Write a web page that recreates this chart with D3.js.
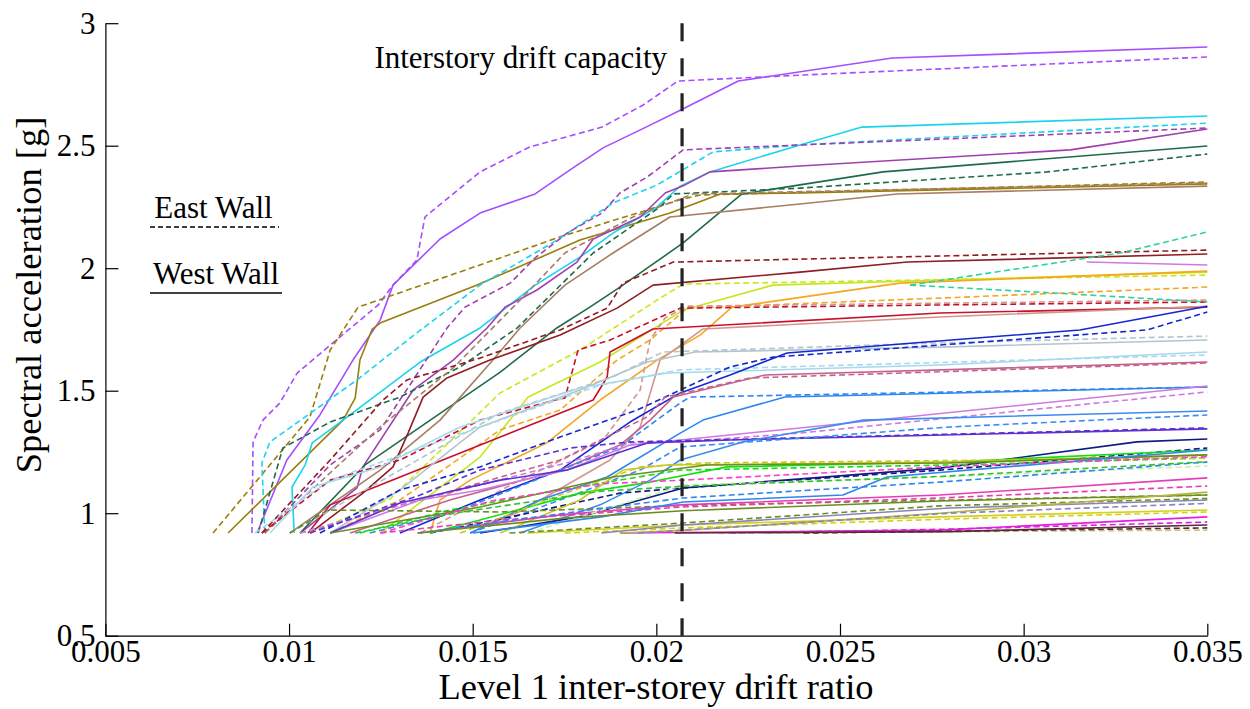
<!DOCTYPE html>
<html>
<head>
<meta charset="utf-8">
<script src="https://cdn.jsdelivr.net/npm/d3@7/dist/d3.min.js"></script>
<style>
  html, body { margin: 0; padding: 0; background: #fff; }
  svg { display: block; }
  text { font-family: "Liberation Serif", "Times New Roman", serif; fill: #000; }
</style>
</head>
<body>
<svg id="chart" width="1250" height="709"></svg>
<script>
// Axis ticks
const xTicks = [0.005, 0.01, 0.015, 0.02, 0.025, 0.03, 0.035];
const xTickLabels = ["0.005", "0.01", "0.015", "0.02", "0.025", "0.03", "0.035"];
const yTicks = [0.5, 1, 1.5, 2, 2.5, 3];
const yTickLabels = ["0.5", "1", "1.5", "2", "2.5", "3"];

// Interstory drift capacity
const driftCapacity = 0.0207;

// Wall of each IDA curve: E = East Wall (dashed), W = West Wall (solid)
const curveWall = [
  "W","E","E","W","W","E","W","E","W","E",
  "W","E","W","E","W","E","W","E","W","E",
  "W","E","W","E","W","E","W","E","W","E",
  "W","E","W","E","W","E","W","E","W","E",
  "W","E","W","E","W","E","W","E","W","E",
  "W","E","E","W","E","W","E","W","E","E",
  "E","W","E","E","W","E","W","E"
];

const curveColor = [
  "#a64dff","#a64dff","#9a7d0a","#9a7d0a","#1ad3ef","#1ad3ef","#a040b0","#a040b0","#1e6b4c","#1e6b4c",
  "#a67e64","#a67e64","#8f1d24","#8f1d24","#c6e81c","#c6e81c","#f5a623","#f5a623","#c8102e","#c8102e",
  "#d4968c","#d4968c","#b4c4cc","#b4c4cc","#a6d8ee","#a6d8ee","#1428d2","#1428d2","#c4628e","#c4628e",
  "#2e86f0","#2e86f0","#d07ae0","#d07ae0","#5b2fd0","#5b2fd0","#3a8cf0","#3a8cf0","#101a80","#101a80",
  "#10e010","#10e010","#c8c81e","#c8c81e","#6b8e23","#6b8e23","#e83cb4","#e83cb4","#e020e0","#e020e0",
  "#d2d21e","#d2d21e","#c8c878","#5a2a3a","#5a2a3a","#8a84b8","#c8f0a8","#2e86f0","#2e86f0","#2ed39a",
  "#2ed39a","#d07ae0","#ff40c8","#30c030","#6b8e23","#6b8e23","#b8b440","#8a84b8"
];

// Each curve: [drift ratio, spectral acceleration (g)] pairs
const curves = [
  [[0.00913,0.919],[0.00994,1.217],[0.01084,1.401],[0.01174,1.625],[0.01248,1.788],[0.01283,1.931],[0.01411,2.119],[0.0152,2.225],[0.0167,2.303],[0.01765,2.401],[0.01855,2.491],[0.01983,2.584],[0.02065,2.645],[0.02223,2.764],[0.02642,2.858],[0.035,2.903]],
  [[0.00899,0.919],[0.00902,1.291],[0.00929,1.380],[0.00975,1.450],[0.01022,1.572],[0.01112,1.686],[0.01243,1.850],[0.01283,1.931],[0.01348,2.033],[0.0137,2.209],[0.0152,2.393],[0.01656,2.495],[0.01852,2.576],[0.01964,2.666],[0.02059,2.764],[0.02391,2.788],[0.035,2.862]],
  [[0.00793,0.919],[0.01057,1.393],[0.01112,1.666],[0.01188,1.841],[0.01575,2.042],[0.01738,2.128],[0.02065,2.279],[0.02119,2.299],[0.035,2.352]],
  [[0.00834,0.919],[0.01147,1.38],[0.0118,1.47],[0.01193,1.625],[0.01226,1.75],[0.01248,1.776],[0.01512,1.931],[0.01792,2.115],[0.02037,2.225],[0.02174,2.303],[0.02391,2.307],[0.035,2.344]],
  [[0.01014,0.919],[0.01008,1.107],[0.01044,1.197],[0.01063,1.287],[0.01147,1.38],[0.01357,1.617],[0.0152,1.756],[0.0167,1.931],[0.01792,2.045],[0.01882,2.143],[0.02002,2.250],[0.02065,2.335],[0.02146,2.393],[0.02391,2.503],[0.0256,2.576],[0.035,2.621]],
  [[0.00934,0.919],[0.00926,1.205],[0.00948,1.291],[0.01185,1.544],[0.01348,1.736],[0.0152,1.931],[0.0173,2.115],[0.01882,2.266],[0.02002,2.34],[0.02155,2.475],[0.02391,2.503],[0.035,2.592]],
  [[0.0103,0.919],[0.01185,1.103],[0.01201,1.189],[0.01338,1.503],[0.01447,1.625],[0.01539,1.756],[0.01588,1.841],[0.01675,1.911],[0.01784,2.025],[0.01828,2.119],[0.01956,2.209],[0.02024,2.307],[0.02078,2.34],[0.02146,2.393],[0.02391,2.417],[0.03127,2.483],[0.035,2.568]],
  [[0.00934,0.919],[0.01112,1.197],[0.01248,1.34],[0.01338,1.544],[0.0143,1.756],[0.01479,1.841],[0.01602,1.939],[0.0167,2.042],[0.01757,2.143],[0.01852,2.225],[0.01901,2.307],[0.01975,2.372],[0.02073,2.483],[0.02391,2.503],[0.035,2.572]],
  [[0.0103,0.919],[0.01207,1.197],[0.01575,1.576],[0.01729,1.756],[0.01819,1.841],[0.01901,1.923],[0.02073,2.103],[0.02233,2.303],[0.02391,2.34],[0.02617,2.393],[0.035,2.499]],
  [[0.00916,0.919],[0.00983,1.266],[0.01112,1.372],[0.01302,1.474],[0.01466,1.597],[0.01621,1.756],[0.01828,2.062],[0.0201,2.250],[0.02046,2.303],[0.02391,2.327],[0.03064,2.393],[0.035,2.466]],
  [[0.01002,0.919],[0.01248,1.176],[0.01411,1.38],[0.01555,1.625],[0.01629,1.756],[0.01751,1.931],[0.01882,2.062],[0.02037,2.209],[0.02391,2.262],[0.02655,2.303],[0.035,2.335]],
  [[0.00934,0.919],[0.0112,1.176],[0.01248,1.352],[0.01447,1.593],[0.01629,1.870],[0.01751,2.062],[0.01936,2.209],[0.021,2.303],[0.035,2.348]],
  [[0.01057,0.919],[0.01201,1.082],[0.01283,1.189],[0.01324,1.327],[0.01365,1.474],[0.0143,1.552],[0.01547,1.625],[0.01738,1.727],[0.01893,1.837],[0.01991,1.931],[0.02391,1.984],[0.02683,2.025],[0.035,2.058]],
  [[0.00926,0.919],[0.01112,1.217],[0.01256,1.462],[0.01321,1.544],[0.0152,1.633],[0.01738,1.748],[0.01866,1.837],[0.01909,1.939],[0.02046,2.025],[0.02391,2.037],[0.035,2.074]],
  [[0.01248,0.919],[0.0152,1.229],[0.01651,1.474],[0.01847,1.617],[0.02073,1.829],[0.02318,1.931],[0.035,1.984]],
  [[0.01057,0.919],[0.01275,1.058],[0.01575,1.491],[0.01792,1.666],[0.02002,1.870],[0.02073,1.935],[0.035,1.972]],
  [[0.01384,0.919],[0.01411,1.054],[0.01493,1.135],[0.01702,1.287],[0.01847,1.462],[0.02002,1.625],[0.02119,1.727],[0.02206,1.841],[0.02663,1.939],[0.035,1.988]],
  [[0.01112,0.919],[0.01302,1.054],[0.01575,1.340],[0.01738,1.421],[0.01893,1.625],[0.01983,1.707],[0.02084,1.837],[0.02772,1.878],[0.035,1.923]],
  [[0.01052,0.919],[0.01112,1.034],[0.01248,1.115],[0.01575,1.311],[0.01828,1.462],[0.01866,1.556],[0.01874,1.658],[0.01991,1.752],[0.02772,1.817],[0.035,1.841]],
  [[0.00926,0.919],[0.01112,1.135],[0.01302,1.217],[0.0152,1.38],[0.01724,1.462],[0.01751,1.470],[0.01787,1.666],[0.01874,1.707],[0.02065,1.837],[0.02772,1.850],[0.035,1.862]],
  [[0.01493,0.919],[0.01637,1.013],[0.01874,1.217],[0.01956,1.352],[0.0201,1.625],[0.02127,1.752],[0.02772,1.801],[0.035,1.845]],
  [[0.01357,0.919],[0.01629,1.135],[0.01855,1.299],[0.01956,1.503],[0.01983,1.707],[0.02024,1.797],[0.02084,1.845],[0.035,1.870]],
  [[0.01112,0.919],[0.01302,1.095],[0.0152,1.352],[0.01792,1.503],[0.01975,1.617],[0.02106,1.658],[0.02772,1.678],[0.035,1.707]],
  [[0.01002,0.919],[0.01302,1.176],[0.01575,1.409],[0.01882,1.556],[0.02018,1.658],[0.02772,1.695],[0.035,1.723]],
  [[0.00948,0.919],[0.01065,1.107],[0.01248,1.189],[0.01466,1.352],[0.01792,1.511],[0.02029,1.572],[0.02772,1.605],[0.035,1.658]],
  [[0.00907,0.919],[0.01112,1.135],[0.01575,1.38],[0.01847,1.523],[0.02065,1.585],[0.035,1.646]],
  [[0.01302,0.919],[0.0152,1.054],[0.01738,1.176],[0.01928,1.372],[0.02065,1.491],[0.02201,1.564],[0.02356,1.654],[0.03153,1.748],[0.035,1.845]],
  [[0.01084,0.919],[0.01302,1.095],[0.0152,1.189],[0.01738,1.311],[0.01947,1.421],[0.02201,1.597],[0.02318,1.637],[0.03336,1.748],[0.035,1.821]],
  [[0.01166,0.919],[0.01438,1.054],[0.01738,1.176],[0.01901,1.278],[0.01983,1.38],[0.02046,1.474],[0.02296,1.564],[0.035,1.617]],
  [[0.0103,0.919],[0.01357,1.054],[0.01738,1.217],[0.01975,1.393],[0.02024,1.474],[0.02255,1.552],[0.035,1.613]],
  [[0.01493,0.919],[0.01683,1.054],[0.01866,1.148],[0.02065,1.327],[0.02127,1.38],[0.0235,1.474],[0.035,1.515]],
  [[0.0122,0.919],[0.01466,1.013],[0.01738,1.176],[0.01901,1.270],[0.02065,1.450],[0.02092,1.474],[0.035,1.515]],
  [[0.01112,0.919],[0.01357,1.054],[0.0152,1.095],[0.01757,1.176],[0.01928,1.278],[0.02065,1.299],[0.02391,1.348],[0.035,1.519]],
  [[0.0103,0.919],[0.01302,1.034],[0.0152,1.115],[0.01765,1.209],[0.01928,1.287],[0.02065,1.291],[0.02391,1.327],[0.035,1.495]],
  [[0.01112,0.919],[0.01302,1.042],[0.01575,1.135],[0.01757,1.176],[0.01975,1.287],[0.02201,1.299],[0.035,1.344]],
  [[0.01057,0.919],[0.01357,1.074],[0.0152,1.176],[0.01765,1.266],[0.01928,1.291],[0.035,1.348]],
  [[0.01629,0.919],[0.01847,1.034],[0.01983,1.135],[0.02065,1.217],[0.02236,1.291],[0.02563,1.38],[0.035,1.417]],
  [[0.01493,0.919],[0.01738,1.054],[0.01956,1.176],[0.02065,1.270],[0.02799,1.352],[0.035,1.401]],
  [[0.0152,0.919],[0.01792,0.985],[0.02073,1.103],[0.02772,1.184],[0.03308,1.291],[0.035,1.303]],
  [[0.01384,0.919],[0.01629,0.993],[0.01901,1.082],[0.02073,1.103],[0.02772,1.176],[0.035,1.266]],
  [[0.01384,0.919],[0.0152,0.972],[0.01792,1.082],[0.01983,1.127],[0.02193,1.189],[0.02799,1.209],[0.035,1.258]],
  [[0.01193,0.919],[0.01438,1.013],[0.01738,1.095],[0.02065,1.176],[0.02799,1.197],[0.035,1.225]],
  [[0.01575,0.919],[0.01792,1.054],[0.01909,1.176],[0.02029,1.197],[0.02799,1.209],[0.035,1.238]],
  [[0.01466,0.919],[0.01738,1.074],[0.01956,1.189],[0.02119,1.205],[0.035,1.225]],
  [[0.01112,0.919],[0.0152,1.025],[0.01882,1.148],[0.02138,1.197],[0.02799,1.205],[0.035,1.238]],
  [[0.01002,0.919],[0.01106,1.013],[0.01575,1.005],[0.02119,1.034],[0.035,1.074]],
  [[0.01357,0.919],[0.01738,0.993],[0.02065,1.034],[0.02772,1.074],[0.035,1.144]],
  [[0.01248,0.919],[0.01575,0.972],[0.02065,1.025],[0.02772,1.062],[0.035,1.111]],
  [[0.01901,0.919],[0.02772,0.931],[0.035,0.985]],
  [[0.022,0.919],[0.028,0.935],[0.035,0.964]],
  [[0.0165,0.919],[0.02073,0.952],[0.02772,0.985],[0.035,1.013]],
  [[0.0175,0.919],[0.02073,0.940],[0.02772,0.975],[0.035,1.005]],
  [[0.0217,0.919],[0.035,0.931]],
  [[0.0205,0.919],[0.028,0.925],[0.035,0.952]],
  [[0.024,0.919],[0.035,0.94]],
  [[0.0185,0.919],[0.02073,0.952],[0.02799,1.021],[0.035,1.054]],
  [[0.0165,0.919],[0.02073,1.115],[0.02772,1.148],[0.035,1.193]],
  [[0.015,0.919],[0.0185,0.985],[0.02073,1.046],[0.02508,1.074],[0.02628,1.148],[0.035,1.258]],
  [[0.0135,0.919],[0.0175,1.0],[0.02073,1.062],[0.02772,1.127],[0.035,1.209]],
  [[0.02691,1.931],[0.03263,2.062],[0.035,2.148]],
  [[0.02691,1.931],[0.0308,1.899],[0.035,1.862]],
  [[0.03172,2.025],[0.035,2.013]],
  [[0.0125,0.919],[0.0155,1.05],[0.0185,1.12],[0.02073,1.135],[0.02772,1.189],[0.035,1.231]],
  [[0.0118,0.919],[0.0145,1.0],[0.0185,1.09],[0.02073,1.11],[0.02772,1.15],[0.035,1.21]],
  [[0.0135,0.919],[0.0175,0.98],[0.02073,1.01],[0.02772,1.05],[0.035,1.074]],
  [[0.016,0.919],[0.02073,0.96],[0.02772,1.03],[0.035,1.06]],
  [[0.019,0.919],[0.02073,0.93],[0.02772,1.0],[0.035,1.086]],
  [[0.0195,0.919],[0.02799,1.0],[0.035,1.04]]
];

const legendItems = ["East Wall", "West Wall"];

const svg = d3.select("#chart");
const margin = { left: 105.4, right: 1207.3, top: 23.2, bottom: 635.7 };

const x = d3.scaleLinear().domain([0.005, 0.035]).range([margin.left, margin.right]);
const y = d3.scaleLinear().domain([0.5, 3]).range([margin.bottom, margin.top]);

// IDA curves
const line = d3.line().x(d => x(d[0])).y(d => y(d[1]));
svg.append("g")
  .selectAll("path")
  .data(curves)
  .join("path")
  .attr("d", line)
  .attr("fill", "none")
  .attr("stroke", (d, i) => curveColor[i])
  .attr("stroke-width", 1.6)
  .attr("stroke-linejoin", "round")
  .attr("stroke-dasharray", (d, i) => curveWall[i] === "E" ? "6,3.5" : null);

// Drift capacity marker
svg.append("line")
  .attr("x1", x(driftCapacity)).attr("x2", x(driftCapacity))
  .attr("y1", y(3)).attr("y2", y(0.5))
  .attr("stroke", "#222").attr("stroke-width", 3.2)
  .attr("stroke-dasharray", "18,17");

svg.append("text")
  .attr("x", x(driftCapacity) - 15).attr("y", 68)
  .attr("text-anchor", "end")
  .attr("font-size", 31)
  .text("Interstory drift capacity");

// Axes
const xAxis = d3.axisBottom(x)
  .tickValues(xTicks)
  .tickFormat((d, i) => xTickLabels[i])
  .tickSizeInner(-12).tickSizeOuter(0).tickPadding(4);
const gx = svg.append("g").attr("transform", `translate(0,${margin.bottom})`).call(xAxis);

const yAxis = d3.axisLeft(y)
  .tickValues(yTicks)
  .tickFormat((d, i) => yTickLabels[i])
  .tickSizeInner(-13).tickSizeOuter(0).tickPadding(10);
const gy = svg.append("g").attr("transform", `translate(${margin.left},0)`).call(yAxis);

[gx, gy].forEach(g => {
  g.select(".domain").attr("stroke", "#000").attr("stroke-width", 1.2);
  g.selectAll(".tick line").attr("stroke", "#000").attr("stroke-width", 1.2);
  g.selectAll(".tick text")
    .attr("font-family", "'Liberation Serif', 'Times New Roman', serif")
    .attr("font-size", 31).attr("fill", "#000");
});

// Axis titles
svg.append("text")
  .attr("x", 656).attr("y", 699)
  .attr("text-anchor", "middle")
  .attr("font-size", 36.5)
  .text("Level 1 inter-storey drift ratio");

svg.append("text")
  .attr("transform", "translate(41,295) rotate(-90)")
  .attr("text-anchor", "middle")
  .attr("font-size", 36.5)
  .text("Spectral acceleration [g]");

// Wall legend
const legendY = [218, 284];
const legendCx = [213.5, 216];
const legendEnd = [279, 282];
const legend = svg.append("g");
legendItems.forEach((name, i) => {
  legend.append("text")
    .attr("x", legendCx[i]).attr("y", legendY[i])
    .attr("text-anchor", "middle")
    .attr("font-size", 31)
    .text(name);
  legend.append("line")
    .attr("x1", 150).attr("x2", legendEnd[i])
    .attr("y1", legendY[i] + 9).attr("y2", legendY[i] + 9)
    .attr("stroke", "#000").attr("stroke-width", 1.4)
    .attr("stroke-dasharray", i === 0 ? "5,3" : null);
});
</script>
</body>
</html>
